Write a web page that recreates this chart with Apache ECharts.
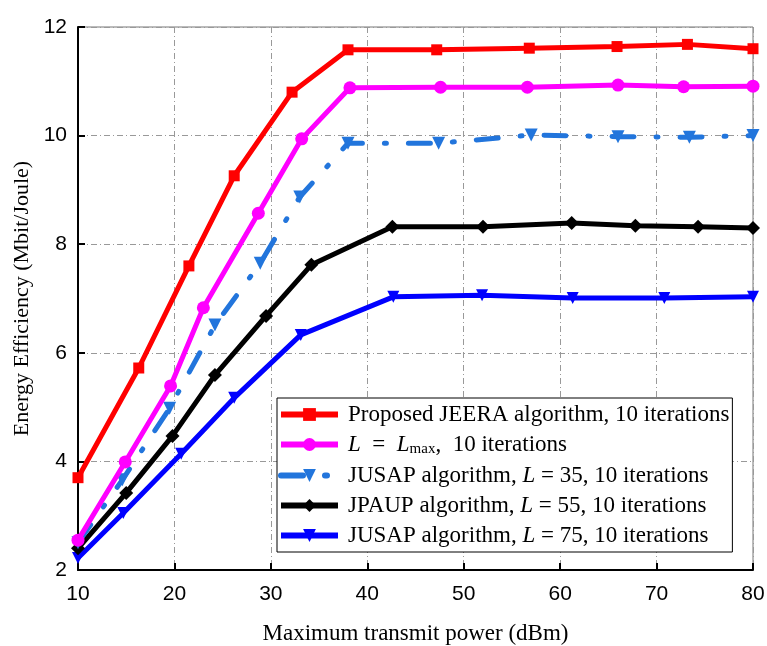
<!DOCTYPE html>
<html>
<head>
<meta charset="utf-8">
<script src="https://cdn.jsdelivr.net/npm/echarts@6/dist/echarts.min.js"></script>
<style>
html,body{margin:0;padding:0;background:#fff;}
#main{width:767px;height:646px;}
</style>
</head>
<body>
<div id="main"></div>
<script>
// 横轴刻度
var xTicks = [10, 20, 30, 40, 50, 60, 70, 80];
var yTicks = [2, 4, 6, 8, 10, 12];

// 各条曲线的数据点 (x: dBm, y: Mbit/Joule)
var jeeraX = [10, 16.3, 21.5, 26.2, 32.2, 38.0, 47.2, 56.8, 65.9, 73.2, 80];
var jeeraY = [3.7, 5.72, 7.6, 9.26, 10.8, 11.58, 11.58, 11.61, 11.64, 11.68, 11.6];

var lmaxX = [10, 14.9, 19.6, 23.0, 28.7, 33.2, 38.2, 47.6, 56.6, 66.0, 72.8, 80];
var lmaxY = [2.55, 3.99, 5.39, 6.83, 8.57, 9.94, 10.88, 10.89, 10.89, 10.93, 10.9, 10.91];

var jusap35X = [10, 14.6, 19.5, 24.2, 28.9, 33.0, 38.0, 47.4, 57.0, 66.0, 73.4, 80];
var jusap35Y = [2.5, 3.66, 4.98, 6.51, 7.65, 8.87, 9.86, 9.86, 10.01, 9.98, 9.97, 10.0];

var jpaupX = [10, 15.0, 19.8, 24.2, 29.5, 34.2, 42.6, 52.0, 61.2, 67.8, 74.3, 80];
var jpaupY = [2.4, 3.42, 4.47, 5.59, 6.68, 7.62, 8.32, 8.32, 8.39, 8.34, 8.32, 8.3];

var jusap75X = [10, 14.7, 20.7, 26.2, 33.1, 42.7, 51.9, 61.3, 70.8, 80];
var jusap75Y = [2.22, 3.05, 4.14, 5.17, 6.33, 7.03, 7.06, 7.01, 7.01, 7.03];

var seriesNames = [
	'Proposed JEERA algorithm, 10 iterations',
	'{i|L}  =  {i|L}{sub|max},  10 iterations',
	'JUSAP algorithm, {i|L} = 35, 10 iterations',
	'JPAUP algorithm, {i|L} = 55, 10 iterations',
	'JUSAP algorithm, {i|L} = 75, 10 iterations'
];

function pairs(xs, ys){
	return xs.map(function(x, i){ return [x, ys[i]]; });
}

var serif = '"Liberation Serif", "DejaVu Serif", serif';
var sans = '"Liberation Sans", Arial, sans-serif';

var gridLine = {show:true, lineStyle:{color:'#999', width:1, type:[6,3,1,3]}};

var myChart = echarts.init(document.getElementById('main'));

var option = {
	backgroundColor:'#fff',
	animation:false,
	grid:{left:78, right:14, top:27, bottom:76, outerBoundsMode:'none', show:true, borderColor:'#777', borderWidth:1, backgroundColor:'transparent'},
	legend:{
		orient:'vertical',
		left:277, top:398,
		backgroundColor:'#fff',
		borderColor:'#000', borderWidth:1,
		padding:[5,3,5,1],
		itemGap:7,
		itemWidth:57, itemHeight:16,
		lineStyle:{width:6},
		textStyle:{
			fontFamily:serif, fontSize:23, color:'#000',
			padding:[0,0,0,5],
			rich:{
				i:{fontFamily:serif, fontStyle:'italic', fontSize:23, color:'#000'},
				sub:{fontFamily:serif, fontSize:15, color:'#000', verticalAlign:'bottom', padding:[10,0,0,0]}
			}
		},
		data:seriesNames
	},
	xAxis:{
		type:'value', min:10, max:80, interval:10,
		name:'Maximum transmit power (dBm)',
		nameLocation:'middle', nameGap:52,
		nameTextStyle:{fontFamily:serif, fontSize:23, color:'#000'},
		axisLine:{onZero:false, lineStyle:{color:'#000', width:2}},
		axisTick:{inside:true, length:7, lineStyle:{color:'#000', width:2}},
		axisLabel:{fontFamily:sans, fontSize:21, color:'#000', margin:14},
		splitLine:gridLine
	},
	yAxis:{
		type:'value', min:2, max:12, interval:2,
		name:'Energy Efficiency (Mbit/Joule)',
		nameLocation:'middle', nameGap:44,
		nameTextStyle:{fontFamily:serif, fontSize:22, color:'#000'},
		axisLine:{onZero:false, lineStyle:{color:'#000', width:2}},
		axisTick:{inside:true, length:7, lineStyle:{color:'#000', width:2}},
		axisLabel:{fontFamily:sans, fontSize:21, color:'#000', margin:11},
		splitLine:gridLine
	},
	series:[
		{
			name:seriesNames[0], type:'line', data:pairs(jeeraX, jeeraY),
			symbol:'rect', symbolSize:11, itemStyle:{color:'#ff0000'},
			lineStyle:{color:'#ff0000', width:5}, z:6
		},
		{
			name:seriesNames[1], type:'line', data:pairs(lmaxX, lmaxY),
			symbol:'circle', symbolSize:13, itemStyle:{color:'#ff00ff'},
			lineStyle:{color:'#ff00ff', width:5}, z:5
		},
		{
			name:seriesNames[2], type:'line', data:pairs(jusap35X, jusap35Y),
			symbol:'triangle', symbolRotate:180, symbolSize:13, itemStyle:{color:'#2275dc'},
			lineStyle:{color:'#2275dc', width:5, type:[22,22,2,22], cap:'round'}, z:4
		},
		{
			name:seriesNames[3], type:'line', data:pairs(jpaupX, jpaupY),
			symbol:'diamond', symbolSize:14, itemStyle:{color:'#000'},
			lineStyle:{color:'#000', width:5}, z:3
		},
		{
			name:seriesNames[4], type:'line', data:pairs(jusap75X, jusap75Y),
			symbol:'triangle', symbolRotate:180, symbolSize:12, itemStyle:{color:'#0000ff'},
			lineStyle:{color:'#0000ff', width:5}, z:2
		}
	]
};

myChart.setOption(option);
</script>
</body>
</html>
